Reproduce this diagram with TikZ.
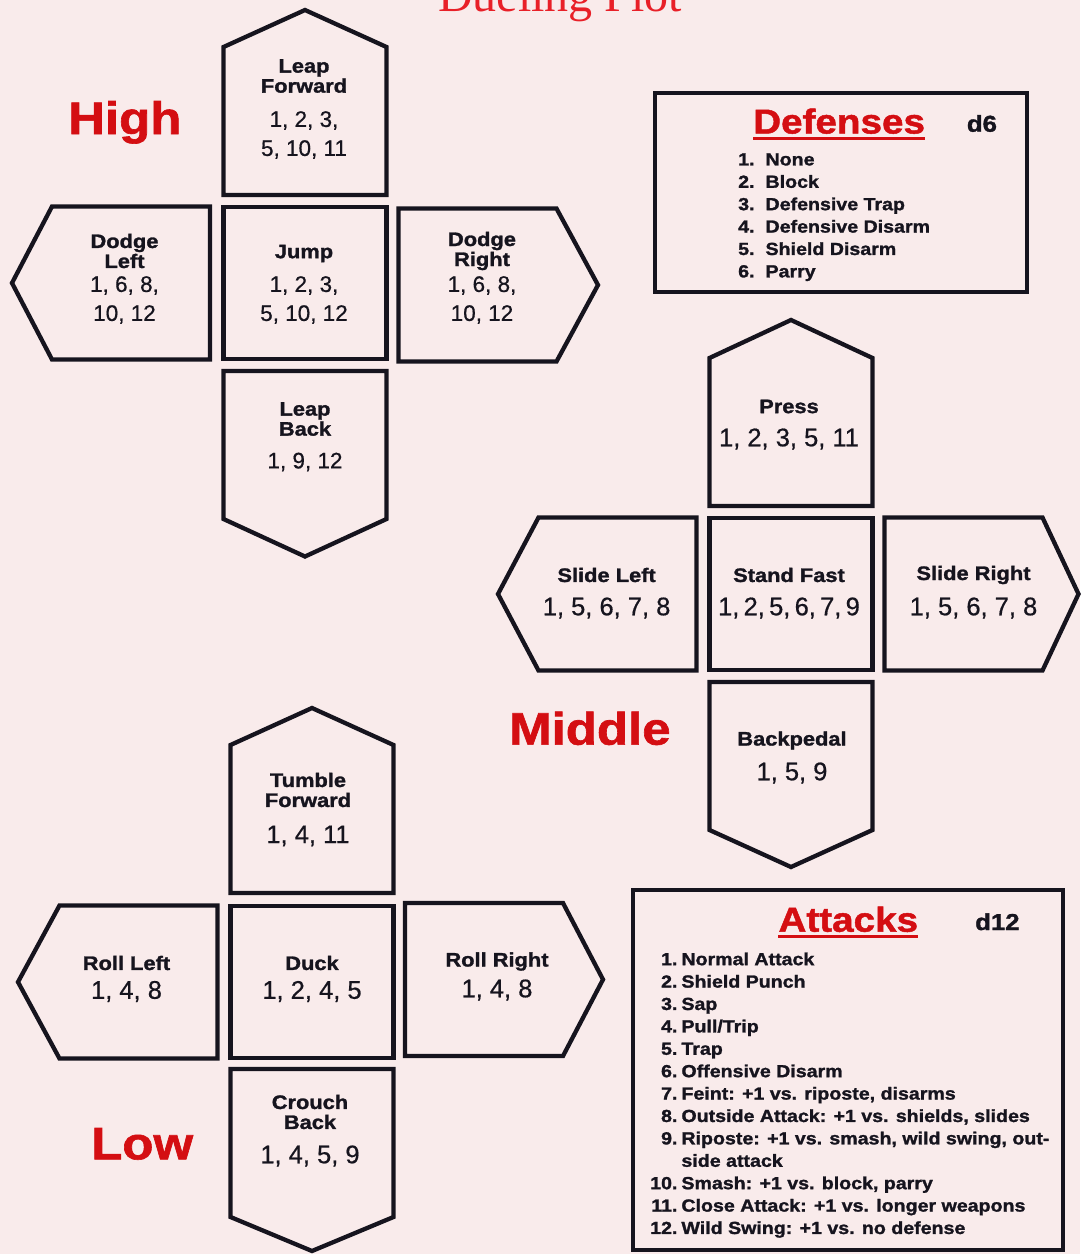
\documentclass[tikz,border=0pt]{standalone}
\usepackage{fontspec}
\setmainfont{Liberation Sans}[FakeBold=0.6]
\newfontfamily\heavy{Liberation Sans}[FakeStretch=1.12, BoldFeatures={FakeBold=1.4}]
\newfontfamily\titlefont{Liberation Serif}
\usepackage{tikz}
\usetikzlibrary{positioning}

\definecolor{ink}{RGB}{22,20,30}
\definecolor{hired}{RGB}{212,14,18}
\definecolor{titlered}{RGB}{232,32,40}
\definecolor{paper}{RGB}{249,235,235}

\begin{document}
\begin{tikzpicture}[x=1pt, y=-1pt, node distance=12pt,
  body/.style={rectangle, inner sep=0pt, outer sep=0pt},
  cbox/.style={body, minimum width=163pt, minimum height=152pt},
  vbox/.style={body, minimum width=163pt, minimum height=148pt},
  hbox/.style={body, minimum width=158pt, minimum height=153pt},
  outline/.style={draw=ink, line width=4.3pt, line join=miter},
  lbl/.style={align=center, inner sep=0pt, text=ink, font=\heavy\bfseries\fontsize{19.5}{20}\selectfont},
  num/.style={align=center, inner sep=0pt, text=ink, font=\fontsize{22.5}{29}\selectfont},
  bignum/.style={align=center, inner sep=0pt, text=ink, font=\fontsize{25.5}{30}\selectfont},
  region/.style={anchor=base west, inner sep=0pt, text=hired, font=\heavy\bfseries\fontsize{45.5}{50}\selectfont},
  listbox/.style={rectangle, draw=ink, line width=4.3pt, inner sep=0pt},
  head/.style={anchor=base west, inner sep=0pt, text=hired, font=\heavy\bfseries\fontsize{34.5}{40}\selectfont},
  die/.style={anchor=base west, inner sep=0pt, text=ink, font=\heavy\bfseries\fontsize{23}{26}\selectfont},
  items/.style={anchor=north west, inner sep=0pt, text=ink, font=\heavy\bfseries\fontsize{17.5}{22.4}\selectfont}]

% paper
\fill[paper] (0,0) rectangle (1080,1254);
\useasboundingbox (0,0) rectangle (1080,1254);

\node[anchor=base west, inner sep=0pt, text=titlered, font=\titlefont\fontsize{48}{50}\selectfont] (title) at (438,11.7) {Dueling Plot};

% high
\node[cbox]  (jp) at (305,283) {};
\node[vbox]  (lf) [above=of jp] {};
\node[vbox]  (lb) [below=of jp] {};
\node[hbox]  (dl) [left=13.5pt of jp] {};
\node[hbox, yshift=-2pt]  (dr) [right=of jp] {};

% middle
\node[cbox]  (sf) at (791,594) {};
\node[vbox]  (pr) [above=of sf] {};
\node[vbox]  (bp) [below=of sf] {};
\node[hbox]  (sl) [left=13pt of sf] {};
\node[hbox]  (sr) [right=of sf] {};

% low
\node[cbox]  (dk) at (312,982) {};
\node[vbox]  (tf) [above=13pt of dk] {};
\node[vbox]  (cb) [below=11pt of dk] {};
\node[hbox]  (rl) [left=13pt of dk] {};
\node[hbox, yshift=2.5pt]  (rr) [right=11.5pt of dk] {};

% outlines
\foreach \b in {jp,sf,dk}
  \draw[outline] (\b.north west) rectangle (\b.south east);
\foreach \b/\h in {lf/37, pr/38, tf/37}
  \draw[outline] (\b.south west) -- (\b.north west) -- ([yshift=\h]\b.north) -- (\b.north east) -- (\b.south east) -- cycle;
\foreach \b/\h in {lb/37.5, bp/37, cb/34}
  \draw[outline] (\b.north west) -- (\b.south west) -- ([yshift=-\h]\b.south) -- (\b.south east) -- (\b.north east) -- cycle;
\foreach \b/\h in {dl/40, sl/40.5, rl/41.5}
  \draw[outline] (\b.north east) -- (\b.north west) -- ([xshift=-\h]\b.west) -- (\b.south west) -- (\b.south east) -- cycle;
\foreach \b/\h in {dr/41.5, sr/36, rr/40}
  \draw[outline] (\b.north west) -- (\b.north east) -- ([xshift=\h]\b.east) -- (\b.south east) -- (\b.south west) -- cycle;

% texts, high
\node[lbl] (lfL) at (304,76)    {Leap\\Forward};
\node[num] (lfN) at (304,135)   {1, 2, 3,\\5, 10, 11};
\node[lbl] (jpL) at (304,253.5) {Jump};
\node[num] (jpN) at (304,300)   {1, 2, 3,\\5, 10, 12};
\node[lbl] (dlL) at (124.5,251) {Dodge\\Left};
\node[num] (dlN) at (124.5,300) {1, 6, 8,\\10, 12};
\node[lbl] (drL) at (482,251)   {Dodge\\Right};
\node[num] (drN) at (482,300)   {1, 6, 8,\\10, 12};
\node[lbl] (lbL) at (305,419)   {Leap\\Back};
\node[num] (lbN) at (305,462)   {1, 9, 12};

% texts, middle
\node[lbl]    (prL) at (789,406.5) {Press};
\node[bignum] (prN) at (789,439)   {1, 2, 3, 5, 11};
\node[lbl]    (sfL) at (789,575)   {Stand Fast};
\node[bignum] (sfN) at (789,608)   {1,\,2,\,5,\,6,\,7,\,9};
\node[lbl]    (slL) at (606.6,575) {Slide Left};
\node[bignum] (slN) at (606.6,608) {1, 5, 6, 7, 8};
\node[lbl]    (srL) at (973.5,575) {Slide Right};
\node[bignum] (srN) at (973.5,608) {1, 5, 6, 7, 8};
\node[lbl]    (bpL) at (792,740.5) {Backpedal};
\node[bignum] (bpN) at (792,773)   {1, 5, 9};

% texts, low
\node[lbl]    (tfL) at (308,790)    {Tumble\\Forward};
\node[bignum] (tfN) at (308,836)    {1, 4, 11};
\node[lbl]    (dkL) at (312,963)    {Duck};
\node[bignum] (dkN) at (312,991.5)  {1, 2, 4, 5};
\node[lbl]    (rlL) at (126.5,963)  {Roll Left};
\node[bignum] (rlN) at (126.5,991.5){1, 4, 8};
\node[lbl]    (rrL) at (497,961.5)  {Roll Right};
\node[bignum] (rrN) at (497,990)    {1, 4, 8};
\node[lbl]    (cbL) at (310,1112)   {Crouch\\Back};
\node[bignum] (cbN) at (310,1156)   {1, 4, 5, 9};

% levels
\node[region] (high) at (68,134)     {High};
\node[region] (mid)  at (509,744.6)  {Middle};
\node[region] (low)  at (91,1159.3)  {Low};

% defenses
\node[listbox, minimum width=371.7pt, minimum height=198.7pt] (defbox) at (840.8,192.3) {};
\node[head] (defT) at (753,133.5) {Defenses};
\draw[hired, line width=3pt] ([yshift=-5]defT.base west) -- ([yshift=-5]defT.base east);
\node[die] (defD) at (966.7,131.7) {d6};
\node[items] (defL) at (738,149.5) {\begin{tabular}{@{}l@{\hspace{11pt}}l@{}}
1. & None\\
2. & Block\\
3. & Defensive Trap\\
4. & Defensive Disarm\\
5. & Shield Disarm\\
6. & Parry
\end{tabular}};

% attacks
\node[listbox, minimum width=430pt, minimum height=360pt] (attbox) at (848,1070) {};
\node[head] (attT) at (778.3,931.7) {Attacks};
\draw[hired, line width=3pt] ([yshift=-5]attT.base west) -- ([yshift=-5]attT.base east);
\node[die] (attD) at (975,930) {d12};
\node[items] (attL) at (650,949.3) {\begin{tabular}{@{}r@{\hspace{4pt}}l@{}}
1. & Normal Attack\\
2. & Shield Punch\\
3. & Sap\\
4. & Pull/Trip\\
5. & Trap\\
6. & Offensive Disarm\\
7. & Feint: +1 vs. riposte, disarms\\
8. & Outside Attack: +1 vs. shields, slides\\
9. & Riposte: +1 vs. smash, wild swing, out-\\
   & side attack\\
10. & Smash: +1 vs. block, parry\\
11. & Close Attack: +1 vs. longer weapons\\
12. & Wild Swing: +1 vs. no defense
\end{tabular}};

\end{tikzpicture}
\end{document}
